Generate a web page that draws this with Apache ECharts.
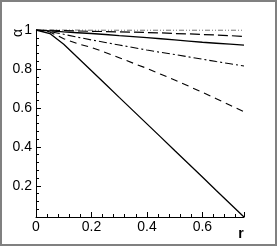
<!DOCTYPE html>
<html><head><meta charset="utf-8">
<script src="https://cdn.jsdelivr.net/npm/echarts@6/dist/echarts.min.js"></script>
<style>html,body{margin:0;padding:0;background:#fff}#c{width:277px;height:246px}</style>
</head><body><div id="c"></div>
<script>
const rValues = [0,0.05,0.1,0.15,0.2,0.25,0.3,0.35,0.4,0.45,0.5,0.55,0.6,0.65,0.7,0.75];
const curveA = [1,0.982,0.927,0.859,0.791,0.723,0.654,0.586,0.518,0.45,0.381,0.313,0.245,0.176,0.108,0.04];
const curveB = [1,0.99,0.955,0.93,0.91,0.885,0.858,0.83,0.803,0.773,0.743,0.712,0.68,0.647,0.614,0.58];
const curveC = [1,0.992,0.978,0.963,0.949,0.936,0.923,0.91,0.897,0.885,0.874,0.862,0.85,0.838,0.827,0.815];
const curveD = [1,0.996,0.99,0.986,0.982,0.977,0.971,0.966,0.961,0.955,0.949,0.943,0.937,0.932,0.927,0.922];
const curveE = [1,0.999,0.997,0.995,0.993,0.992,0.99,0.989,0.987,0.985,0.982,0.98,0.977,0.974,0.971,0.967];
const curveF = [1,1,1,1,0.999,0.999,0.999,0.999,0.999,0.999,0.999,0.999,0.999,0.999,0.999,0.999];
const xTicks = [0,0.2,0.4,0.6];
const yTicks = [0.2,0.4,0.6,0.8,1];
const xName = 'r';
const yName = 'α';

const pair = arr => rValues.map((x,i)=>[x,arr[i]]);
const chart = echarts.init(document.getElementById('c'), null, {renderer:'canvas'});
const font = '"Liberation Sans", Arial, Helvetica, sans-serif';
const mk = (data, color, width, type) => ({type:'line', data:pair(data), showSymbol:false, symbol:'none',
  lineStyle:{color, width, type}, z:2});
chart.setOption({
  animation:false,
  grid:{left:36, top:30, right:33, bottom:29},
  xAxis:{type:'value', min:0, max:0.75, interval:0.2,
    axisLine:{lineStyle:{color:'#000', width:1}},
    axisTick:{inside:true, length:5, lineStyle:{color:'#000'}},
    minorTick:{show:true, splitNumber:5, length:3, lineStyle:{color:'#000'}},
    splitLine:{show:false},
    axisLabel:{color:'#000', fontSize:14, fontFamily:font, margin:3, showMaxLabel:false,
      formatter:v=> xTicks.includes(+v.toFixed(2)) ? String(+v.toFixed(2)) : ''}},
  yAxis:{type:'value', min:0.04, max:1, splitNumber:5,
    axisLine:{lineStyle:{color:'#000', width:1}},
    axisTick:{inside:true, length:5, lineStyle:{color:'#000'}},
    minorTick:{show:true, splitNumber:5, length:3, lineStyle:{color:'#000'}},
    splitLine:{show:false},
    axisLabel:{color:'#000', fontSize:14, fontFamily:font, margin:4, showMinLabel:false,
      formatter:v=> yTicks.includes(+v.toFixed(2)) ? String(+v.toFixed(2)) : ''}},
  graphic:[
    {type:'rect', shape:{x:1,y:1,width:275,height:244}, style:{fill:'none', stroke:'#808080', lineWidth:2}, silent:true},
    {type:'text', x:18, y:33, rotation:Math.PI/2, style:{text:yName, fill:'#000', font:'14px '+font, align:'center', verticalAlign:'middle'}},
    {type:'text', x:241, y:234, style:{text:xName, fill:'#000', font:'bold 14px '+font, align:'center', verticalAlign:'middle'}}
  ],
  series:[
    mk(curveF, '#9a9a9a', 1.5, [5,2,1,2,1,2]),
    mk(curveE, '#000', 1.2, [10,4]),
    mk(curveD, '#000', 1.3, 'solid'),
    mk(curveC, '#000', 1.1, [8,3,2,3]),
    mk(curveB, '#000', 1.1, [7,5]),
    mk(curveA, '#000', 1.3, 'solid')
  ]
});
</script></body></html>
